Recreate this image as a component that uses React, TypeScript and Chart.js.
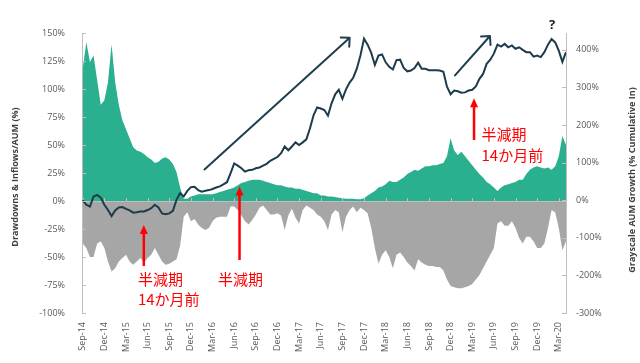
import React, { useEffect, useRef } from "react";
import { Chart, registerables } from "chart.js";
Chart.register(...registerables);

// x positions are months since Sep-2014; series are sampled every half month
const monthStep = 0.5;
const tickMonths = [0, 3, 6, 9, 12, 15, 18, 21, 24, 27, 30, 33, 36, 39, 42, 45, 48, 51, 54, 57, 60, 63, 66];
const tickLabels = ["Sep-14", "Dec-14", "Mar-15", "Jun-15", "Sep-15", "Dec-15", "Mar-16", "Jun-16", "Sep-16", "Dec-16", "Mar-17", "Jun-17", "Sep-17", "Dec-17", "Mar-18", "Jun-18", "Sep-18", "Dec-18", "Mar-19", "Jun-19", "Sep-19", "Dec-19", "Mar-20"];
const leftTicks = [-100, -75, -50, -25, 0, 25, 50, 75, 100, 125, 150];
const rightTicks = [-300, -200, -100, 0, 100, 200, 300, 400];

// Inflows / AUM (%), left axis
const inflows = [
  118, 142, 124, 130, 108, 86, 90, 106, 140, 106,
  86, 72, 64, 56, 48, 45, 44, 42, 39, 37,
  34, 35, 38, 39, 37, 33, 26, 12, 2, 2,
  4, 5, 6, 6, 6, 6, 6, 7, 8, 9,
  10, 11, 12, 14, 16, 17, 18, 19, 19, 19,
  18, 17, 16, 15, 14, 14, 13, 12, 12, 11,
  11, 10, 9, 8, 7, 7, 5, 5, 4, 4,
  3.5, 3, 2.5, 2, 2, 2, 1.5, 1.5, 2.5, 5,
  7, 9, 12, 13, 15, 18, 17, 17, 19, 21,
  24, 26, 28, 27, 29, 31, 31, 32, 32, 33,
  34, 40, 56, 45, 41, 44, 40, 36, 32, 28,
  24, 21, 17, 15, 12, 9, 12, 14, 15, 16,
  17, 19, 19, 24, 28, 30, 31, 30, 29, 30,
  28, 31, 40, 58, 50,
];

// Drawdowns (%), left axis
const drawdowns = [
  -38, -42, -50, -50, -38, -36, -42, -54, -63, -60,
  -54, -51, -48, -54, -57, -54, -51, -55, -51, -48,
  -42, -48, -54, -57, -56, -54, -52, -40, -14, -10,
  -18, -16, -21, -24, -26, -24, -18, -15, -14, -14,
  -14, -5, -5, -8, -13, -18, -21, -17, -12, -6,
  -4, -8, -12, -12, -11, -13, -26, -13, -7, -15,
  -20, -8, -4, -6, -8, -12, -14, -18, -26, -12,
  -8, -10, -28, -14, -8, -5, -10, -6, -8, -11,
  -24, -42, -56, -48, -44, -50, -60, -48, -46, -50,
  -55, -58, -62, -52, -55, -57, -58, -58, -59, -59,
  -62, -70, -76, -77, -78, -78, -77, -76, -74, -70,
  -66, -60, -54, -48, -42, -20, -18, -22, -22, -18,
  -24, -33, -38, -32, -32, -36, -42, -42, -38, -24,
  -8, -10, -24, -44, -36,
];

// Grayscale AUM growth (% cumulative in), right axis
const aumGrowth = [
  0, -12, -17, 10, 14, 7, -12, -26, -42, -27,
  -19, -18, -23, -27, -33, -32, -30, -30, -26, -21,
  -12, -19, -35, -37, -35, -28, 1, 19, 10, 25,
  35, 36, 27, 23, 25, 27, 30, 34, 37, 42,
  48, 72, 98, 92, 85, 76, 80, 81, 85, 87,
  92, 97, 105, 110, 115, 125, 143, 133, 143, 154,
  147, 154, 162, 191, 226, 247, 244, 240, 225, 258,
  282, 294, 270, 295, 313, 326, 350, 385, 430, 414,
  392, 360, 385, 388, 367, 355, 348, 373, 374, 352,
  343, 345, 352, 366, 350, 350, 346, 346, 346, 345,
  342, 302, 282, 292, 290, 286, 287, 292, 294, 303,
  323, 336, 363, 374, 390, 414, 409, 416, 407, 412,
  403, 407, 400, 394, 394, 382, 385, 381, 394, 414,
  429, 420, 398, 368, 394,
];

// Annotations in data coordinates (month, left-axis %)
const trendArrows = [
  { from: [16.88, 28.1], to: [37.01, 145.7] },
  { from: [51.61, 112.1], to: [56.46, 147.3] },
];
const halvingArrows = [
  { m: 8.47, tip: -21.4, base: -58 },
  { m: 21.74, tip: 12.95, base: -52.7 },
  { m: 54.25, tip: 91.7, base: 54.5 },
];
const halvingLabels = [
  { m: 7.66, v: -69.6, text: "半減期" },
  { m: 7.66, v: -88, text: "14か月前" },
  { m: 18.75, v: -70.1, text: "半減期" },
  { m: 55.29, v: 59.8, text: "半減期" },
  { m: 55.29, v: 40.6, text: "14か月前" },
];
const questionMark = { m: 65.06, v: 157.1, text: "?" };
const leftTitle = "Drawdowns & Inflows/AUM (%)";
const rightTitle = "Grayscale AUM Growth (% Cumulative In)";

const FONT = "'Open Sans', 'Liberation Sans', sans-serif";
const TICK_COLOR = "#595959";
const AXIS_COLOR = "#bfbfbf";

const toPoints = (arr: number[]) => arr.map((v, i) => ({ x: i * monthStep, y: v }));

const overlayPlugin = {
  id: "overlay",
  afterDatasetDraw(chart: any, args: any) {
    if (args.index !== 2) return;
    const { ctx, chartArea } = chart;
    const xs = chart.scales.x;
    const y0 = chart.scales.y.getPixelForValue(0);
    ctx.save();
    ctx.strokeStyle = AXIS_COLOR;
    ctx.lineWidth = 1;
    ctx.beginPath();
    ctx.moveTo(chartArea.left, Math.round(y0) + 0.5);
    ctx.lineTo(chartArea.right, Math.round(y0) + 0.5);
    for (const m of tickMonths) {
      const x = Math.round(xs.getPixelForValue(m)) + 0.5;
      ctx.moveTo(x, Math.round(y0));
      ctx.lineTo(x, Math.round(y0) - 3);
    }
    ctx.stroke();
    ctx.restore();
  },
  afterDraw(chart: any) {
    const { ctx, chartArea } = chart;
    const xs = chart.scales.x;
    const ys = chart.scales.y;
    const y1 = chart.scales.y1;
    ctx.save();
    // inward tick marks
    ctx.strokeStyle = AXIS_COLOR;
    ctx.lineWidth = 1;
    ctx.beginPath();
    for (const t of leftTicks) {
      const y = Math.round(ys.getPixelForValue(t)) + 0.5;
      ctx.moveTo(chartArea.left, y);
      ctx.lineTo(chartArea.left + 4, y);
    }
    for (const t of rightTicks) {
      const y = Math.round(y1.getPixelForValue(t)) + 0.5;
      ctx.moveTo(chartArea.right, y);
      ctx.lineTo(chartArea.right - 4, y);
    }
    ctx.stroke();

    // trend arrows
    ctx.strokeStyle = "#1f3e4e";
    ctx.lineWidth = 2;
    ctx.lineCap = "round";
    ctx.lineJoin = "round";
    for (const a of trendArrows) {
      const fx = xs.getPixelForValue(a.from[0]);
      const fy = ys.getPixelForValue(a.from[1]);
      const tx = xs.getPixelForValue(a.to[0]);
      const ty = ys.getPixelForValue(a.to[1]);
      const ang = Math.atan2(ty - fy, tx - fx);
      ctx.beginPath();
      ctx.moveTo(fx, fy);
      ctx.lineTo(tx, ty);
      const L = 9;
      ctx.moveTo(tx + L * Math.cos(ang + Math.PI - Math.PI / 4), ty + L * Math.sin(ang + Math.PI - Math.PI / 4));
      ctx.lineTo(tx, ty);
      ctx.lineTo(tx + L * Math.cos(ang + Math.PI + Math.PI / 4), ty + L * Math.sin(ang + Math.PI + Math.PI / 4));
      ctx.stroke();
    }

    // halving arrows
    ctx.strokeStyle = "#ff0000";
    ctx.fillStyle = "#ff0000";
    ctx.lineWidth = 2.5;
    ctx.lineCap = "butt";
    for (const a of halvingArrows) {
      const x = xs.getPixelForValue(a.m);
      const tip = ys.getPixelForValue(a.tip);
      const base = ys.getPixelForValue(a.base);
      ctx.beginPath();
      ctx.moveTo(x, base);
      ctx.lineTo(x, tip + 7);
      ctx.stroke();
      ctx.beginPath();
      ctx.moveTo(x, tip);
      ctx.lineTo(x - 4, tip + 9);
      ctx.lineTo(x + 4, tip + 9);
      ctx.closePath();
      ctx.fill();
    }

    // halving labels
    ctx.font = "15px 'Noto Sans CJK JP', sans-serif";
    ctx.textAlign = "left";
    ctx.textBaseline = "middle";
    for (const l of halvingLabels) {
      ctx.fillText(l.text, xs.getPixelForValue(l.m), ys.getPixelForValue(l.v));
    }

    // question mark
    ctx.fillStyle = "#222222";
    ctx.font = `bold 13px ${FONT}`;
    ctx.textAlign = "center";
    ctx.fillText(questionMark.text, xs.getPixelForValue(questionMark.m), ys.getPixelForValue(questionMark.v));

    // axis titles (both read bottom-to-top)
    ctx.fillStyle = "#404040";
    ctx.font = `bold 9px ${FONT}`;
    ctx.textAlign = "center";
    ctx.textBaseline = "middle";
    ctx.save();
    ctx.translate(15, 177);
    ctx.rotate(-Math.PI / 2);
    ctx.fillText(leftTitle, 0, 0);
    ctx.restore();
    ctx.save();
    ctx.translate(632, 180);
    ctx.rotate(-Math.PI / 2);
    ctx.fillText(rightTitle, 0, 0);
    ctx.restore();

    ctx.restore();
  },
};

export default function App() {
  const ref = useRef<HTMLCanvasElement>(null);
  useEffect(() => {
    const tickFont = { family: FONT, size: 9 };
    const chart = new Chart(ref.current as HTMLCanvasElement, {
      type: "line",
      data: {
        datasets: [
          {
            label: "Grayscale AUM Growth",
            data: toPoints(aumGrowth),
            yAxisID: "y1",
            borderColor: "#1c3b4b",
            borderWidth: 2,
            pointRadius: 0,
            fill: false,
            tension: 0,
            order: 0,
          },
          {
            label: "Inflows/AUM",
            data: toPoints(inflows),
            yAxisID: "y",
            borderWidth: 0,
            borderColor: "rgba(0,0,0,0)",
            backgroundColor: "#2bb08f",
            pointRadius: 0,
            fill: "origin",
            order: 2,
          },
          {
            label: "Drawdowns",
            data: toPoints(drawdowns),
            yAxisID: "y",
            borderWidth: 0,
            borderColor: "rgba(0,0,0,0)",
            backgroundColor: "#a6a6a6",
            pointRadius: 0,
            fill: "origin",
            order: 1,
          },
        ],
      } as any,
      options: {
        animation: false,
        responsive: false,
        maintainAspectRatio: false,
        layout: { padding: { top: 33, left: 0, right: 0, bottom: 0 } },
        plugins: { legend: { display: false }, tooltip: { enabled: false } },
        scales: {
          x: {
            type: "linear",
            min: -0.1,
            max: 67,
            afterBuildTicks: (s: any) => {
              s.ticks = tickMonths.map((v) => ({ value: v }));
            },
            afterFit: (s: any) => {
              s.height = 50;
            },
            grid: { display: false, drawTicks: false },
            border: { display: false },
            ticks: {
              autoSkip: false,
              minRotation: 90,
              maxRotation: 90,
              padding: 9,
              font: tickFont,
              color: TICK_COLOR,
              callback: (v: any) => {
                const i = tickMonths.indexOf(Number(v));
                return i >= 0 ? tickLabels[i] : "";
              },
            },
          },
          y: {
            type: "linear",
            position: "left",
            min: -100,
            max: 150,
            afterBuildTicks: (s: any) => {
              s.ticks = leftTicks.map((v) => ({ value: v }));
            },
            afterFit: (s: any) => {
              s.width = 82;
            },
            grid: { display: false, drawTicks: false },
            border: { display: true, color: AXIS_COLOR, width: 1 },
            ticks: { padding: 17, font: tickFont, color: TICK_COLOR, callback: (v: any) => `${v}%` },
          },
          y1: {
            type: "linear",
            position: "right",
            min: -300,
            max: 445,
            afterBuildTicks: (s: any) => {
              s.ticks = rightTicks.map((v) => ({ value: v }));
            },
            afterFit: (s: any) => {
              s.width = 74;
            },
            grid: { display: false, drawTicks: false },
            border: { display: true, color: AXIS_COLOR, width: 1 },
            ticks: { padding: 10, font: tickFont, color: TICK_COLOR, callback: (v: any) => `${v}%` },
          },
        },
      } as any,
      plugins: [overlayPlugin],
    });
    return () => chart.destroy();
  }, []);
  return (
    <div style={{ position: "absolute", left: 0, top: 0, width: 640, height: 363, background: "#fff" }}>
      <canvas ref={ref} width={640} height={363} style={{ display: "block", width: 640, height: 363 }} />
    </div>
  );
}
